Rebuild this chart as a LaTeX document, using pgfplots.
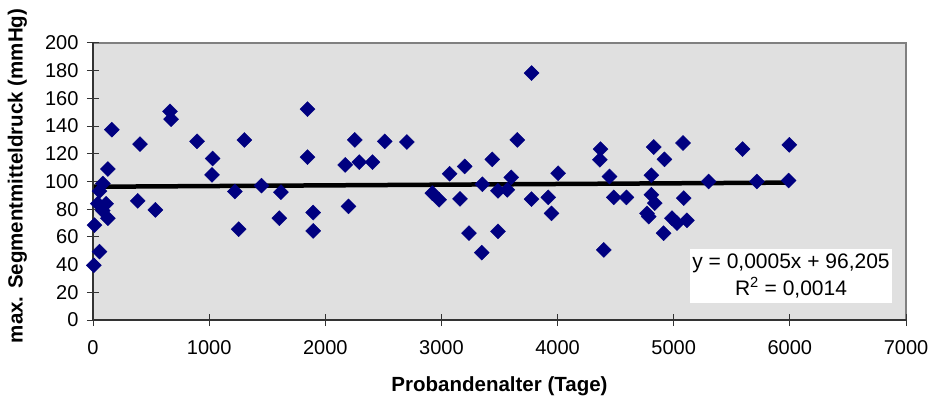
\documentclass[border=0pt]{standalone}
\usepackage{pgfplots}
\pgfplotsset{compat=1.18}
\usepackage{fontspec}
\setmainfont{Liberation Sans}
\definecolor{navymark}{RGB}{0,0,128}
\definecolor{plotbg}{RGB}{224,224,224}
\definecolor{frame}{RGB}{128,128,128}

\pgfplotstableread{
x y
7 39.5
13 68.5
56 49.4
41 84
56 93
85 98.5
113 84
84 79
128 73.5
128 109
162 137.4
385 86
405 127
537 79.5
663 150.6
672 145
896 129
1025 104.8
1030 116.6
1222 92.8
1254 65.6
1303 130
1451 97
1604 73.5
1618 92.3
1847 152.3
1847 117.6
1896 77.6
1896 64.3
2171 112
2200 82
2254 130
2292 114
2406 114
2512 129
2702 128.5
2922 91.6
2980 86.8
3071 105.6
3160 87.5
3200 110.9
3237 62.7
3347 48.7
3352 98
3438 116
3487 93.3
3487 64
3567 94
3601 103
3653 130
3776 178.3
3776 87.3
3920 88.5
3948 77
4005 106
4364 115.7
4370 123.4
4398 50.6
4447 103.6
4484 88.5
4593 88.5
4770 77
4785 74.7
4808 104.5
4808 90.4
4828 124.9
4837 84.4
4913 62.7
4920 116
4985 73.5
5028 70
5080 127.8
5086 88
5114 72
5300 100
5593 123.4
5716 100
5989 100.7
5995 126.5
}\druckdaten

\begin{document}
\begin{tikzpicture}
\useasboundingbox (0,0) rectangle (931pt,402pt);
\begin{axis}[
  at={(93pt,82pt)}, anchor=south west,
  scale only axis,
  width=813pt, height=277pt,
  xmin=0, xmax=7000, ymin=0, ymax=200,
  xtick={0,1000,...,7000},
  ytick={0,20,...,200},
  axis lines=left,
  axis line style={black!80, line width=1.2pt, -},
  axis background/.style={fill=plotbg, draw=frame, line width=1.5pt},
  tick align=center,
  major tick length=12pt,
  tick style={black!80, line width=1pt},
  /pgf/number format/1000 sep={},
  /pgf/number format/assume math mode=true,
  tick label style={font=\fontsize{20}{24}\selectfont},
  xticklabel style={yshift=-11pt},
  yticklabel style={xshift=-5pt},
  label style={font=\fontsize{20.5}{24}\selectfont\bfseries},
  xlabel={Probandenalter (Tage)},
  ylabel={max. Segmentmitteldruck (mmHg)},
  xlabel style={at={(axis description cs:0.5,-0.24)}, anchor=center},
  ylabel style={at={(axis description cs:-0.093,0.52)}, anchor=center},
  clip=false,
]
\addplot[only marks, mark=square*, mark size=5.3pt,
  mark options={rotate=45, fill=navymark, draw=navymark}]
  table[x=x, y=y] {\druckdaten};
% linear trend: y = 0.0005x + 96.205
\addplot[black, line width=4.5pt, no marks] coordinates {(7,96.21) (5995,99.20)};
\node[fill=white, align=center, inner xsep=2pt, inner ysep=5pt,
  font=\fontsize{21}{27}\selectfont] at (axis cs:6010,31.8)
  {y = 0,0005x + 96,205\\R\textsuperscript{2} = 0,0014};
\end{axis}
\end{tikzpicture}
\end{document}
